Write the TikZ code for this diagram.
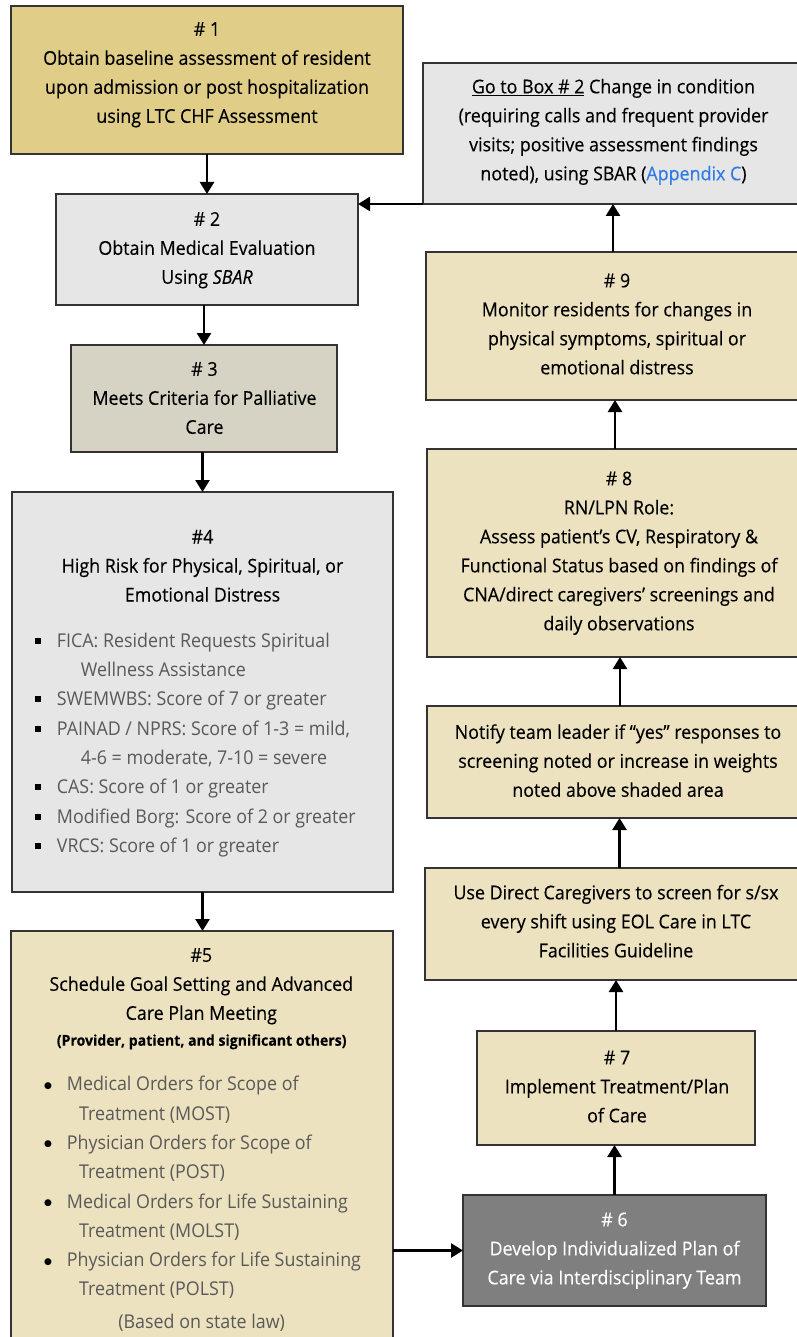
\documentclass[tikz,border=0pt]{standalone}
\usepackage{fontspec}
\setmainfont{Open Sans}[FakeStretch=0.94,FakeBold=0.3]
\newfontfamily\listfont{Open Sans}[FakeStretch=0.94]
\newfontfamily\dejavu{DejaVu Sans}
\usetikzlibrary{arrows.meta}
\definecolor{khaki}{HTML}{DFCD88}
\definecolor{lgray}{HTML}{E6E6E6}
\definecolor{beige}{HTML}{D7D3C4}
\definecolor{cream}{HTML}{EDE2BF}
\definecolor{dgray}{HTML}{7F7F7F}
\definecolor{listgray}{HTML}{595959}
\definecolor{linkblue}{HTML}{2F7BE5}
\newcommand{\sqbul}{\makebox[23.4pt][l]{\hspace{1pt}\textcolor{black}{\raisebox{3.5pt}{\rule{6pt}{6pt}}}}}
\newcommand{\rdbul}{\makebox[23.4pt][l]{\hspace{0.5pt}\textcolor{black}{\raisebox{2.5pt}{\dejavu\fontsize{9}{9}\selectfont ●}}}}
\begin{document}
\begin{tikzpicture}[x=1pt,y=-1pt,
  box/.style={draw=black!80, line width=1.5pt, inner sep=0pt, outer sep=0pt},
  txt/.style={align=center, inner sep=0pt, font=\fontsize{19}{29}\selectfont},
  lst/.style={align=left, inner sep=0pt, anchor=west, text=listgray, font=\listfont\fontsize{19}{29.3}\selectfont},
  arr/.style={line width=2.6pt, -{Triangle[length=12pt,width=14pt]}}]
\useasboundingbox (0,0) rectangle (796,1337);
% boxes
\node[box, fill=khaki, minimum width=392pt, minimum height=148pt] (b1) at (207,80) {};
\node[box, fill=lgray, minimum width=302pt, minimum height=111pt] (b2) at (207,249.5) {};
\node[box, fill=beige, minimum width=266pt, minimum height=107pt] (b3) at (204,398.5) {};
\node[box, fill=lgray, minimum width=381pt, minimum height=400pt] (b4) at (202.5,692) {};
\node[box, fill=cream, minimum width=382pt, minimum height=414pt] (b5) at (202,1138) {};
\node[box, fill=lgray, minimum width=377pt, minimum height=141pt] (go) at (611.5,133.5) {};
\node[box, fill=cream, minimum width=374pt, minimum height=148pt] (b9) at (613,326) {};
\node[box, fill=cream, minimum width=373pt, minimum height=208pt] (b8) at (613.5,553) {};
\node[box, fill=cream, minimum width=373pt, minimum height=112pt] (nt) at (613.5,762) {};
\node[box, fill=cream, minimum width=375pt, minimum height=112pt] (ud) at (612.5,924) {};
\node[box, fill=cream, minimum width=278pt, minimum height=114pt] (b7) at (616,1088) {};
\node[box, fill=dgray, minimum width=303pt, minimum height=111pt] (b6) at (614.5,1250.5) {};
% texts
\node[txt] (t1) at (207,73.5) {\strut\# 1\\Obtain baseline assessment of resident\\upon admission or post hospitalization\\using LTC CHF Assessment\strut};
\node[txt] (t2) at (207,249) {\strut\# 2\\Obtain Medical Evaluation\\Using \textit{SBAR}\strut};
\node[txt] (t3) at (204.5,399) {\strut\# 3\\Meets Criteria for Palliative\\Care\strut};
\node[txt] (t4) at (202.5,566.7) {\strut\#4\\High Risk for Physical, Spiritual, or\\Emotional Distress\strut};
\node[lst] (l4) at (33.3,744) {\strut\sqbul FICA: Resident Requests Spiritual\\
\hspace*{47.4pt}Wellness Assistance\\
\sqbul SWEMWBS: Score of 7 or greater\\
\sqbul PAINAD / NPRS: Score of 1-3 = mild,\\
\hspace*{47.4pt}4-6 = moderate, 7-10 = severe\\
\sqbul CAS: Score of 1 or greater\\
\sqbul Modified Borg: Score of 2 or greater\\
\sqbul VRCS: Score of 1 or greater\strut};
\node[txt] (t5) at (201.3,985) {\strut\#5\\Schedule Goal Setting and Advanced\\Care Plan Meeting\strut};
\node[txt, font=\fontsize{15}{20}\selectfont\bfseries] (t5b) at (201.7,1041.7) {\strut(Provider, patient, and significant others)};
\node[lst] (l5) at (43.3,1187.5) {\strut\rdbul Medical Orders for Scope of\\
\hspace*{35.7pt}Treatment (MOST)\\
\rdbul Physician Orders for Scope of\\
\hspace*{35.7pt}Treatment (POST)\\
\rdbul Medical Orders for Life Sustaining\\
\hspace*{35.7pt}Treatment (MOLST)\\
\rdbul Physician Orders for Life Sustaining\\
\hspace*{35.7pt}Treatment (POLST)\strut};
\node[txt, text=listgray, font=\listfont\fontsize{19}{29}\selectfont] (t5c) at (201.7,1322.3) {\strut(Based on state law)};
\node[txt] (tg) at (613.5,131) {\strut\underline{Go to Box \# 2} Change in condition\\(requiring calls and frequent provider\\visits; positive assessment findings\\noted), using SBAR ({\color{linkblue}Appendix C})\strut};
\node[txt] (t9) at (617,325) {\strut\# 9\\Monitor residents for changes in\\physical symptoms, spiritual or\\emotional distress\strut};
\node[txt] (t8) at (619,552) {\strut\# 8\\RN/LPN Role:\\Assess patient’s CV, Respiratory \&\\Functional Status based on findings of\\CNA/direct caregivers’ screenings and\\daily observations\strut};
\node[txt] (tn) at (618,762) {\strut Notify team leader if “yes” responses to\\screening noted or increase in weights\\noted above shaded area\strut};
\node[txt] (tu) at (616,922.5) {\strut Use Direct Caregivers to screen for s/sx\\every shift using EOL Care in LTC\\Facilities Guideline\strut};
\node[txt] (t7) at (617,1087.5) {\strut\# 7\\Implement Treatment/Plan\\of Care\strut};
\node[txt, text=white] (t6) at (614.5,1249.5) {\strut\# 6\\Develop Individualized Plan of\\Care via Interdisciplinary Team\strut};
% arrows
\draw[arr] (b1.south) -- (b2.north);
\draw[arr] (b3.north |- b2.south) -- (b3.north);
\draw[arr] (b4.north |- b3.south) -- (b4.north);
\draw[arr] (b4.south) -- (b4.south |- b5.north);
\draw[arr] (b5.east |- b6.west) -- (b6.west);
\draw[arr] (b6.north) -- (b6.north |- b7.south);
\draw[arr] (b7.north) -- (b7.north |- ud.south);
\draw[arr] ([xshift=7pt]ud.north) -- ([xshift=7pt]ud.north |- nt.south);
\draw[arr] ([xshift=6.5pt]nt.north) -- ([xshift=6.5pt]nt.north |- b8.south);
\draw[arr] ([xshift=1.5pt]b8.north) -- ([xshift=1.5pt]b8.north |- b9.south);
\draw[arr] (b9.north) -- (b9.north |- go.south);
\draw[arr] (go.south west) -- (go.south west -| b2.east);
\end{tikzpicture}
\end{document}
